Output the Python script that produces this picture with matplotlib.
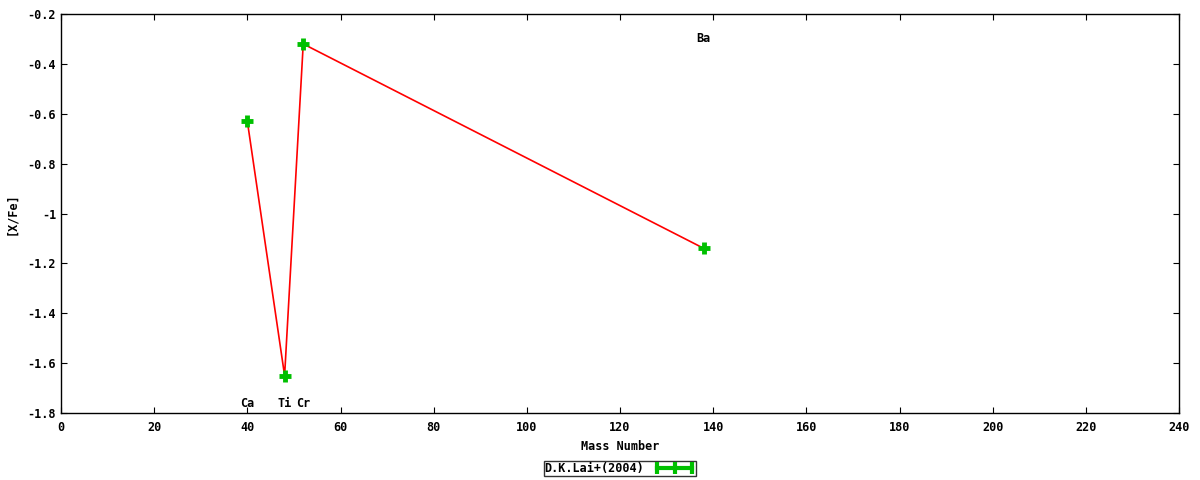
import matplotlib
matplotlib.use('Agg')
import matplotlib.pyplot as plt
from matplotlib.lines import Line2D
import numpy as np

plt.rcParams['font.family'] = 'DejaVu Sans Mono'
plt.rcParams['font.size'] = 8
plt.rcParams['font.weight'] = 'bold'
plt.rcParams['xtick.direction'] = 'in'
plt.rcParams['ytick.direction'] = 'in'

elements = ['Ca', 'Ti', 'Cr', 'Ba']
mass = [40, 48, 52, 138]
xfe = [-0.63, -1.65, -0.32, -1.14]
label_y = [-1.76, -1.76, -1.76, -0.30]

fig = plt.figure(figsize=(12, 4.8), dpi=100)
ax = fig.add_axes([61/1200, 1 - 413/480, (1179 - 61)/1200, (413 - 14)/480])

green = '#00c000'
ax.plot(mass, xfe, color='red', lw=1.2, zorder=2)
ax.plot(mass, xfe, '+', color=green, ms=9, mew=3.5, zorder=3)

for el, m, ly in zip(elements, mass, label_y):
    ax.text(m, ly, el, ha='center', va='center', fontsize=8.5, fontweight='bold')

ax.set_xlim(0, 240)
ax.set_ylim(-1.8, -0.2)
ax.set_xticks(np.arange(0, 241, 20))
ax.set_yticks(np.arange(-1.8, -0.19, 0.2))
ax.set_yticklabels(['-1.8', '-1.6', '-1.4', '-1.2', '-1', '-0.8', '-0.6', '-0.4', '-0.2'])
ax.tick_params(top=True, right=True, length=4, width=0.8, labelsize=8.5)
ax.tick_params(axis='x', pad=6)
for s in ax.spines.values():
    s.set_linewidth(1.0)

ax.set_xlabel('Mass Number', fontsize=8.5, fontweight='bold', labelpad=4)
ax.set_ylabel('[X/Fe]', fontsize=8.5, fontweight='bold', labelpad=7)

handle = Line2D([], [], color=green, lw=3, marker='|', ms=9, mew=3)
leg = fig.legend([handle], ['D.K.Lai+(2004)'], loc='center',
                 bbox_to_anchor=(620/1200, 1 - 468.5/480), frameon=True,
                 fancybox=False, edgecolor='black', handlelength=3.5, numpoints=3,
                 borderpad=0.1, borderaxespad=0, handletextpad=0.8, markerfirst=False,
                 fontsize=8.5)
leg.get_frame().set_linewidth(1.0)

fig.savefig('out.png', dpi=100)
